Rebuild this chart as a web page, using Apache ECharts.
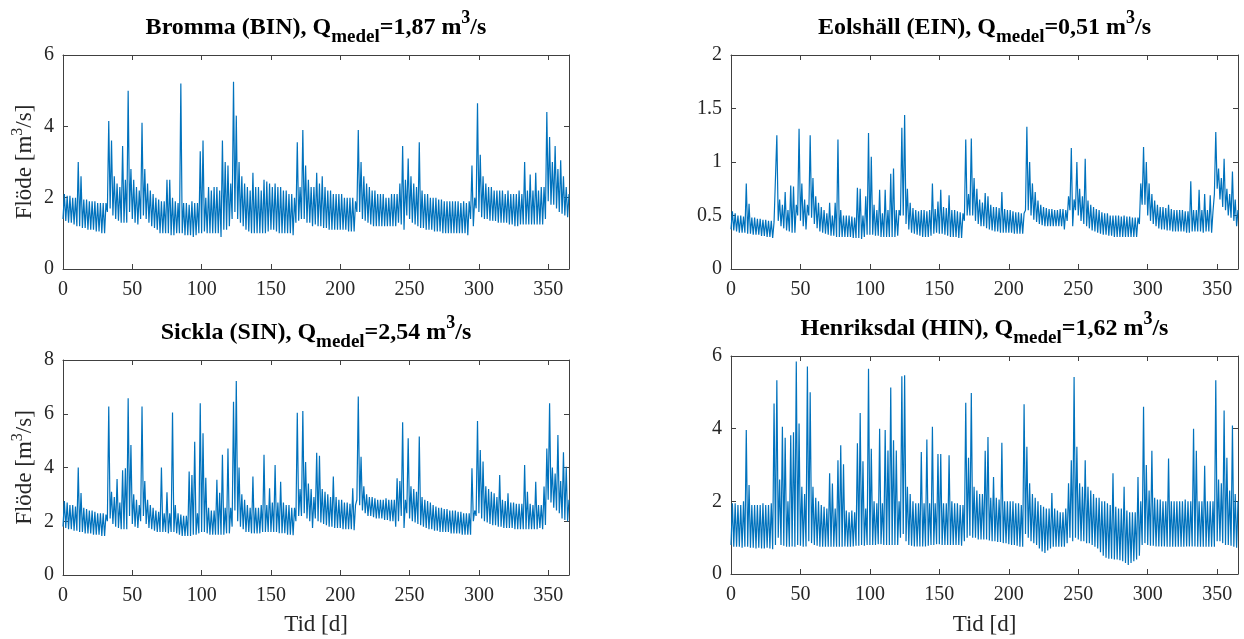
<!DOCTYPE html>
<html>
<head>
<meta charset="utf-8">
<script src="https://cdn.jsdelivr.net/npm/echarts@6/dist/echarts.min.js"></script>
<style>html,body{margin:0;padding:0;background:#fff}#c{width:1244px;height:639px}</style>
</head>
<body>
<div id="c"></div>
<script>
// Values read per 2-day window (days 0,2,...,364): daily low and daily high
const binHigh = [
2.1,2.05,2.05,2.0,2.0,3.0,2.6,1.95,1.95,1.9,
1.9,1.9,1.85,1.85,1.85,1.85,4.15,3.6,2.6,2.4,
2.3,3.45,2.5,5.0,2.8,2.5,2.3,2.2,4.1,2.8,
2.4,2.2,2.1,2.0,1.95,1.9,1.9,2.5,2.5,2.0,
1.9,1.85,5.2,1.85,1.85,1.8,1.9,1.85,1.85,3.3,
3.6,2.0,2.3,2.2,2.3,2.3,2.2,3.6,3.0,2.9,
2.4,5.25,4.3,3.0,2.6,2.4,2.3,2.2,2.7,2.3,
2.3,2.2,2.5,2.45,2.4,2.3,2.4,2.3,2.3,2.2,
2.2,2.1,2.1,2.0,3.55,2.3,3.9,2.9,2.5,2.3,
2.3,2.7,2.4,2.6,2.3,2.2,2.2,2.1,2.1,2.1,
2.1,2.0,2.0,2.0,2.0,1.9,3.9,3.0,2.6,2.4,
2.3,2.2,2.2,2.1,2.1,2.1,2.0,2.0,2.1,2.1,
2.1,2.4,3.45,2.5,3.1,2.6,2.4,2.3,3.55,2.2,
2.1,2.1,2.0,2.0,2.0,1.95,1.95,1.9,1.9,1.9,
1.9,1.9,1.9,1.85,1.9,1.85,1.9,2.9,2.0,4.65,
3.2,2.6,2.4,2.3,2.3,2.2,2.2,2.2,2.2,2.1,
2.2,2.1,2.1,2.1,2.2,2.1,3.0,2.2,2.65,2.2,
2.7,2.2,2.3,2.3,4.4,3.7,3.0,3.45,2.8,3.05,
2.6,2.3,2.1];
const binLow = [
1.4,1.35,1.3,1.3,1.25,1.2,1.2,1.15,1.15,1.1,
1.1,1.1,1.05,1.05,1.0,1.0,1.6,1.7,1.5,1.4,
1.35,1.3,1.3,1.3,1.6,1.4,1.3,1.25,1.4,1.5,
1.4,1.3,1.2,1.15,1.1,1.0,1.0,1.0,1.0,0.95,
0.95,1.0,1.0,1.0,0.95,0.95,0.95,0.9,0.95,1.0,
1.0,1.05,1.0,1.0,1.0,1.0,1.0,0.9,1.1,1.1,
1.2,1.4,1.6,1.4,1.3,1.2,1.1,1.05,1.0,1.0,
1.0,1.0,1.0,1.0,1.05,1.1,1.1,1.05,1.0,1.0,
1.0,1.0,1.0,0.95,1.3,1.35,1.4,1.4,1.3,1.3,
1.2,1.25,1.2,1.2,1.15,1.15,1.1,1.1,1.1,1.1,
1.1,1.1,1.1,1.05,1.05,1.05,1.6,1.6,1.4,1.35,
1.3,1.25,1.2,1.2,1.2,1.2,1.2,1.2,1.2,1.2,
1.2,1.3,1.25,1.1,1.5,1.4,1.3,1.25,1.2,1.15,
1.15,1.1,1.1,1.1,1.05,1.05,1.05,1.0,1.0,1.0,
1.0,1.0,1.0,1.0,1.0,1.0,0.95,1.4,1.2,1.7,
1.6,1.45,1.4,1.4,1.35,1.35,1.35,1.3,1.3,1.3,
1.3,1.25,1.25,1.2,1.2,1.25,1.25,1.25,1.25,1.25,
1.25,1.25,1.25,1.25,1.4,1.9,1.8,1.8,1.7,1.6,
1.55,1.5,1.45];
const einHigh = [
0.54,0.52,0.5,0.5,0.49,0.8,0.61,0.48,0.48,0.47,
0.47,0.46,0.46,0.45,0.45,0.44,1.25,0.65,0.6,0.72,
0.55,0.78,0.77,0.6,1.31,0.8,0.65,0.6,1.25,0.85,
0.68,0.62,0.58,0.55,0.52,0.62,0.5,0.62,1.21,0.55,
0.5,0.5,0.5,0.49,0.48,0.76,0.75,0.5,0.68,1.27,
1.05,0.6,0.55,0.74,0.52,0.74,0.55,0.89,0.94,0.55,
0.55,1.32,1.44,0.75,0.62,0.57,0.55,0.54,0.55,0.55,
0.54,0.55,0.8,0.56,0.63,0.74,0.58,0.57,0.69,0.55,
0.55,0.54,0.53,0.52,1.21,0.7,1.22,0.85,0.75,0.65,
0.62,0.71,0.68,0.6,0.58,0.58,0.57,0.72,0.56,0.55,
0.55,0.54,0.53,0.53,0.52,0.52,1.33,1.0,0.8,0.72,
0.64,0.6,0.58,0.57,0.56,0.56,0.55,0.55,0.56,0.56,
0.55,0.68,1.13,0.65,1.0,0.75,0.68,1.03,0.64,0.6,
0.58,0.56,0.55,0.53,0.52,0.52,0.5,0.5,0.5,0.5,
0.49,0.5,0.49,0.49,0.48,0.48,0.48,0.8,1.14,1.0,
0.8,0.7,0.64,0.6,0.58,0.58,0.57,0.6,0.56,0.55,
0.55,0.55,0.55,0.54,0.54,0.82,0.55,0.55,0.74,0.55,
0.7,0.55,0.69,0.54,1.28,0.94,0.85,1.03,0.75,0.7,
0.91,0.65,0.55];
const einLow = [
0.37,0.36,0.35,0.34,0.34,0.34,0.33,0.33,0.32,0.32,
0.32,0.31,0.31,0.3,0.3,0.29,0.45,0.45,0.4,0.38,
0.36,0.35,0.34,0.34,0.5,0.45,0.4,0.37,0.5,0.48,
0.42,0.38,0.35,0.34,0.33,0.32,0.31,0.31,0.3,0.3,
0.3,0.3,0.3,0.3,0.29,0.29,0.29,0.28,0.3,0.32,
0.32,0.32,0.31,0.31,0.3,0.3,0.3,0.3,0.3,0.3,
0.31,0.5,0.5,0.42,0.37,0.34,0.33,0.32,0.31,0.3,
0.3,0.3,0.31,0.33,0.34,0.33,0.33,0.32,0.31,0.3,
0.3,0.3,0.29,0.29,0.45,0.5,0.5,0.5,0.45,0.42,
0.4,0.4,0.38,0.37,0.36,0.35,0.35,0.34,0.34,0.34,
0.34,0.34,0.33,0.33,0.33,0.33,0.55,0.55,0.5,0.46,
0.44,0.42,0.41,0.4,0.4,0.4,0.4,0.4,0.4,0.4,
0.37,0.45,0.55,0.4,0.55,0.5,0.45,0.42,0.4,0.38,
0.36,0.35,0.34,0.33,0.32,0.32,0.31,0.31,0.3,0.3,
0.3,0.3,0.3,0.3,0.3,0.3,0.3,0.42,0.6,0.6,
0.5,0.45,0.42,0.4,0.38,0.37,0.37,0.36,0.36,0.35,
0.35,0.35,0.35,0.35,0.34,0.34,0.35,0.35,0.35,0.35,
0.34,0.35,0.35,0.34,0.7,0.75,0.65,0.58,0.55,0.5,
0.48,0.45,0.4];
const sinHigh = [
2.75,2.7,2.6,2.6,2.55,4.0,3.05,2.5,2.45,2.4,
2.4,2.35,2.3,2.3,2.3,2.25,6.27,3.1,2.9,3.57,
2.7,3.9,3.97,6.58,4.84,3.0,2.8,2.6,6.27,3.5,
2.8,2.6,2.5,2.4,2.35,4.0,2.3,3.08,2.3,6.05,
2.6,2.3,2.25,2.2,2.2,3.85,3.72,4.96,2.3,6.39,
5.27,3.62,2.5,2.4,2.4,3.54,3.06,4.47,2.5,4.71,
2.5,6.45,7.22,4.0,3.0,2.8,2.6,2.5,3.66,2.5,
2.5,2.6,4.47,2.6,3.23,2.7,4.09,2.7,3.47,2.7,
2.6,2.6,2.5,2.5,6.04,3.2,6.1,4.2,3.4,3.2,
2.9,4.55,4.44,3.2,3.1,3.0,2.9,3.66,2.9,2.8,
2.8,2.7,2.7,2.65,3.23,2.6,6.64,4.4,3.3,3.0,
2.9,2.9,2.85,2.8,2.8,2.8,2.85,2.8,2.8,2.8,
3.6,3.5,5.68,2.8,5.09,3.3,3.2,3.1,5.15,2.9,
2.8,2.75,2.7,2.6,2.55,2.5,2.5,2.45,2.45,2.4,
2.4,2.4,2.35,2.35,2.3,2.3,2.3,3.97,2.4,5.73,
4.65,4.22,3.3,3.2,3.1,3.04,2.9,3.72,2.8,2.75,
3.04,2.7,2.7,2.65,2.65,2.65,4.09,3.1,2.65,2.6,
3.47,2.6,2.6,3.29,4.71,6.39,4.0,3.78,5.21,3.5,
4.57,4.03,2.8];
const sinLow = [
1.8,1.75,1.7,1.7,1.65,1.65,1.6,1.6,1.55,1.55,
1.55,1.5,1.5,1.5,1.45,1.45,2.0,2.1,1.9,1.8,
1.75,1.7,1.7,1.7,2.2,1.9,1.8,1.75,2.0,2.2,
1.9,1.75,1.7,1.65,1.6,1.6,1.6,1.6,1.55,1.6,
1.6,1.55,1.5,1.45,1.45,1.45,1.45,1.5,1.5,1.55,
1.6,1.6,1.55,1.5,1.5,1.5,1.5,1.5,1.5,1.55,
1.55,1.8,2.4,2.0,1.8,1.7,1.6,1.6,1.55,1.55,
1.55,1.55,1.6,1.6,1.6,1.6,1.6,1.6,1.55,1.55,
1.55,1.5,1.5,1.48,2.0,2.2,2.2,2.3,2.1,2.0,
1.75,2.1,2.0,1.95,1.9,1.85,1.8,1.8,1.75,1.75,
1.75,1.7,1.7,1.7,1.7,1.67,2.8,2.6,2.4,2.3,
2.2,2.2,2.15,2.1,2.1,2.1,2.05,2.05,2.0,2.0,
1.8,2.0,2.2,1.75,2.3,2.1,2.0,1.95,1.9,1.85,
1.8,1.75,1.7,1.7,1.65,1.65,1.6,1.6,1.6,1.6,
1.55,1.55,1.55,1.55,1.5,1.5,1.5,1.5,2.0,2.2,
2.3,2.1,2.0,1.95,1.9,1.85,1.85,1.8,1.8,1.75,
1.75,1.75,1.75,1.7,1.7,1.7,1.7,1.7,1.7,1.7,
1.7,1.7,1.75,1.7,1.86,2.8,2.7,2.5,2.4,2.3,
2.1,2.05,2.0];
const hinHigh = [
1.95,1.95,1.9,1.9,2.0,3.96,2.45,1.9,1.9,1.9,
1.9,1.95,1.9,1.9,1.95,4.69,5.33,2.6,4.05,3.75,
2.0,3.82,3.9,5.85,4.14,2.4,2.2,5.71,5.0,2.4,
2.1,2.0,1.9,1.85,1.8,2.77,2.49,1.8,3.13,3.54,
3.02,1.75,1.7,1.75,1.7,3.6,4.43,3.1,1.8,5.65,
3.45,2.0,1.95,4.0,1.95,3.96,3.4,5.13,3.68,3.4,
2.0,5.44,5.47,2.4,2.2,2.0,1.95,1.95,3.36,1.95,
3.7,1.95,4.05,1.95,3.3,3.3,1.95,1.95,3.27,2.0,
1.95,1.95,1.9,1.9,4.71,3.2,4.98,2.4,2.3,2.2,
2.2,3.39,3.77,2.1,2.67,2.1,2.05,3.61,2.0,2.0,
2.0,2.0,1.95,1.95,1.9,4.67,3.5,2.5,2.2,2.1,
2.0,1.9,1.85,1.8,1.8,2.23,1.8,1.75,1.7,1.7,
1.8,2.5,3.13,5.42,3.5,2.5,2.4,3.13,2.4,2.3,
2.2,2.1,2.1,2.0,2.0,1.95,1.9,2.77,1.85,1.8,
1.8,2.4,1.75,1.7,1.7,1.7,2.67,2.0,4.6,3.0,
2.3,3.39,2.1,2.05,2.05,2.0,2.0,3.18,2.0,2.0,
2.0,2.0,2.0,2.05,2.0,2.0,4.0,3.39,2.0,2.0,
2.98,2.0,2.0,2.0,5.33,2.6,2.5,4.5,3.2,2.3,
4.09,2.2,2.0];
const hinLow = [
0.8,0.75,0.75,0.75,0.72,0.75,0.75,0.72,0.72,0.7,
0.72,0.7,0.7,0.72,0.7,0.68,0.8,1.0,0.8,0.78,
0.75,0.75,0.76,0.75,0.8,0.78,0.75,0.76,0.9,0.85,
0.8,0.78,0.75,0.75,0.75,0.75,0.75,0.75,0.75,0.75,
0.75,0.76,0.75,0.75,0.76,0.78,0.78,0.8,0.78,0.8,
0.8,0.8,0.8,0.82,0.82,0.8,0.8,0.8,0.8,0.8,
0.8,1.0,1.1,0.9,0.8,0.78,0.76,0.76,0.76,0.76,
0.76,0.78,0.8,0.8,0.82,0.82,0.8,0.8,0.8,0.8,
0.8,0.8,0.8,0.78,0.9,1.0,1.05,1.0,1.0,0.95,
0.95,0.95,0.95,0.92,0.9,0.9,0.88,0.88,0.85,0.85,
0.82,0.8,0.8,0.78,0.75,0.75,1.1,1.0,0.9,0.85,
0.8,0.7,0.62,0.58,0.65,0.7,0.75,0.75,0.75,0.75,
0.75,0.85,1.0,0.9,1.0,0.95,0.9,0.9,0.85,0.85,
0.8,0.75,0.7,0.6,0.5,0.45,0.42,0.42,0.4,0.4,
0.38,0.35,0.3,0.25,0.3,0.35,0.4,0.5,0.8,0.85,
0.8,0.78,0.78,0.76,0.76,0.76,0.76,0.75,0.75,0.75,
0.75,0.75,0.75,0.75,0.76,0.76,0.76,0.76,0.75,0.75,
0.75,0.75,0.75,0.75,0.75,0.9,0.9,0.85,0.8,0.8,
0.78,0.75,0.72];

const xTicks = [0, 50, 100, 150, 200, 250, 300, 350];
const yMaxes = [6, 2, 8, 6];
const yIntervals = [2, 0.5, 2, 2];
const titleNames = ['Bromma (BIN), Q', 'Eolshäll (EIN), Q', 'Sickla (SIN), Q', 'Henriksdal (HIN), Q'];
const titleValues = ['=1,87 m', '=0,51 m', '=2,54 m', '=1,62 m'];
const highs = [binHigh, einHigh, sinHigh, hinHigh];
const lows = [binLow, einLow, sinLow, hinLow];

const FONT = '"Liberation Serif", "Times New Roman", serif';
const AX = '#404040';
const TXT = '#262626';
const grids = [
  {left: 63, top: 55, width: 506, height: 214},
  {left: 731, top: 55, width: 507, height: 214},
  {left: 63, top: 360, width: 506, height: 215},
  {left: 731, top: 356, width: 507, height: 218}
];

function buildSeries(lo, hi) {
  const out = [];
  for (let k = 0; k < lo.length; k++) {
    out.push([2 * k, lo[k]]);
    out.push([2 * k + 1, hi[k]]);
  }
  return out;
}

const xAxes = [], yAxes = [], series = [], graphics = [];
grids.forEach((g, i) => {
  const common = {
    type: 'value', gridIndex: i, min: 0, max: 365, interval: 50,
    splitLine: {show: false},
    axisLine: {show: true, onZero: false, lineStyle: {color: AX, width: 1}},
    axisTick: {show: true, inside: true, length: 5, lineStyle: {color: AX, width: 1},
      customValues: xTicks}
  };
  xAxes.push(Object.assign({}, common, {
    position: 'bottom',
    axisLabel: {show: true, color: TXT, fontSize: 20, fontFamily: FONT, margin: 11,
      customValues: xTicks, formatter: v => String(v)}
  }));
  xAxes.push(Object.assign({}, common, {
    position: 'top', axisLabel: {show: false}
  }));
  const ycommon = {
    type: 'value', gridIndex: i, min: 0, max: yMaxes[i], interval: yIntervals[i],
    splitLine: {show: false},
    axisLine: {show: true, onZero: false, lineStyle: {color: AX, width: 1}},
    axisTick: {show: true, inside: true, length: 5, lineStyle: {color: AX, width: 1}}
  };
  yAxes.push(Object.assign({}, ycommon, {
    position: 'left',
    axisLabel: {show: true, color: TXT, fontSize: 20, fontFamily: FONT, margin: 9}
  }));
  yAxes.push(Object.assign({}, ycommon, {position: 'right', axisLabel: {show: false}}));
  series.push({
    type: 'line', xAxisIndex: 2 * i, yAxisIndex: 2 * i,
    data: buildSeries(lows[i], highs[i]),
    showSymbol: false, symbol: 'none', silent: true, animation: false,
    lineStyle: {color: '#0072BD', width: 1.2},
    clip: true
  });
  const cx = g.left + g.width / 2;
  graphics.push({
    type: 'text', x: cx, y: g.top - 27, silent: true,
    style: {
      text: titleNames[i] + '{sub|medel}' + titleValues[i] + '{sup|3}/s',
      fontSize: 24, fontWeight: 'bold', fontFamily: FONT, fill: '#000',
      align: 'center', verticalAlign: 'middle', lineHeight: 38,
      rich: {
        sub: {fontSize: 19, fontWeight: 'bold', fontFamily: FONT, fill: '#000', verticalAlign: 'bottom', lineHeight: 15},
        sup: {fontSize: 18, fontWeight: 'bold', fontFamily: FONT, fill: '#000', verticalAlign: 'top', lineHeight: 15}
      }
    }
  });
  if (i === 0 || i === 2) {
    graphics.push({
      type: 'text', x: 25, y: g.top + g.height / 2, rotation: Math.PI / 2, silent: true,
      style: {
        text: 'Flöde [m{sup|3}/s]', fontSize: 23, fontFamily: FONT, fill: TXT,
        align: 'center', verticalAlign: 'middle', lineHeight: 30,
        rich: {sup: {fontSize: 16, fontFamily: FONT, fill: TXT, verticalAlign: 'top', lineHeight: 14}}
      }
    });
  }
  if (i === 2 || i === 3) {
    graphics.push({
      type: 'text', x: cx, y: 625, silent: true,
      style: {text: 'Tid [d]', fontSize: 23, fontFamily: FONT, fill: TXT, align: 'center', verticalAlign: 'middle'}
    });
  }
});

const chart = echarts.init(document.getElementById('c'), null, {renderer: 'canvas'});
chart.setOption({
  animation: false,
  backgroundColor: '#fff',
  grid: grids,
  xAxis: xAxes,
  yAxis: yAxes,
  series: series,
  graphic: graphics
});
</script>
</body>
</html>
